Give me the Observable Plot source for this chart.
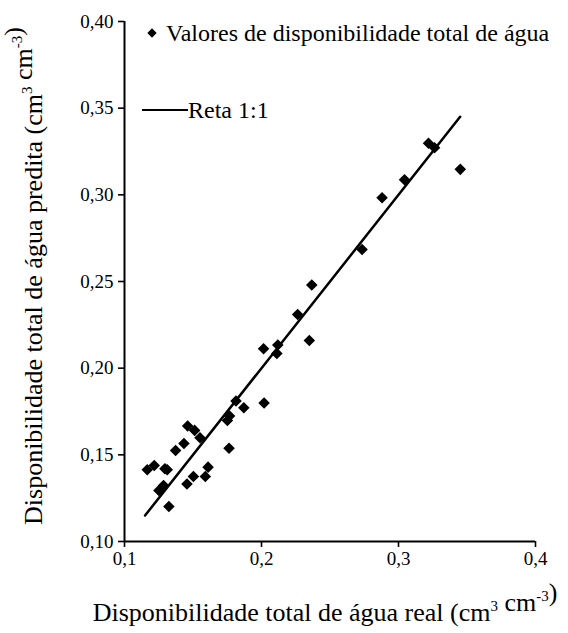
<!DOCTYPE html>
<html>
<head>
<meta charset="utf-8">
<script src="https://cdn.jsdelivr.net/npm/d3@7"></script>
<script src="https://cdn.jsdelivr.net/npm/@observablehq/plot@0.6"></script>
<style>
  html, body { margin: 0; padding: 0; background: #fff; }
  #chart svg { display: block; }
  #chart svg, #chart svg text { font-family: "Liberation Serif", "DejaVu Serif", serif !important; }
  #chart svg g[aria-label$="tick label"] text { font-size: 19px !important; }
</style>
</head>
<body>
<div id="chart"></div>
<script>
// Observed (real) vs predicted total water availability, cm3 cm-3
const realValues = [0.1166, 0.1217, 0.1295, 0.1312, 0.1251, 0.1285, 0.1324, 0.1373, 0.1434, 0.1461,
  0.1512, 0.1551, 0.1456, 0.1503, 0.1590, 0.1610, 0.1763, 0.1751, 0.1767, 0.1814,
  0.1871, 0.2019, 0.2015, 0.2119, 0.2112, 0.2349, 0.2264, 0.2367, 0.2734, 0.2880,
  0.3044, 0.3219, 0.3263, 0.3451];
const predictedValues = [0.1414, 0.1439, 0.1420, 0.1414, 0.1294, 0.1323, 0.1202, 0.1525, 0.1565, 0.1666,
  0.1641, 0.1598, 0.1332, 0.1375, 0.1375, 0.1429, 0.1538, 0.1698, 0.1724, 0.1810,
  0.1772, 0.1799, 0.2112, 0.2134, 0.2085, 0.2160, 0.2310, 0.2480, 0.2685, 0.2983,
  0.3087, 0.3298, 0.3272, 0.3147];
const lineEnds = [0.115, 0.345];
const xTicks = [0.1, 0.2, 0.3, 0.4];
const yTicks = [0.10, 0.15, 0.20, 0.25, 0.30, 0.35, 0.40];
const legendPoints = "Valores de disponibilidade total de água";
const legendLine = "Reta 1:1";

const points = realValues.map((x, i) => ({x, y: predictedValues[i]}));
const oneToOne = lineEnds.map(v => ({x: v, y: v}));
const comma = (f) => (d) => d3.format(f)(d).replace(".", ",");

const plot = Plot.plot({
  width: 568,
  height: 633,
  marginLeft: 124,
  marginRight: 33,
  marginTop: 21,
  marginBottom: 92,
  style: {fontFamily: "Liberation Serif, serif", fontSize: "19px", color: "#000", background: "#fff"},
  x: {domain: [0.1, 0.4]},
  y: {domain: [0.1, 0.4]},
  marks: [
    Plot.axisX({ticks: xTicks, tickFormat: comma(".1f"), tickSize: 6, tickPadding: 4, strokeWidth: 1.6, label: null}),
    Plot.axisY({ticks: yTicks, tickFormat: comma(".2f"), tickSize: 6, tickPadding: 5, strokeWidth: 1.6, label: null}),
    Plot.ruleX([0.1], {stroke: "#000", strokeWidth: 2}),
    Plot.ruleY([0.1], {stroke: "#000", strokeWidth: 2}),
    Plot.line(oneToOne, {x: "x", y: "y", stroke: "#000", strokeWidth: 2.5}),
    Plot.dot(points, {x: "x", y: "y", symbol: "diamond2", r: 5.2, fill: "#000", stroke: "none"})
  ]
});

document.getElementById("chart").appendChild(plot);

const svg = d3.select(plot);

function supLabel(g, parts, supSize, shift) {
  parts.forEach(([t, sup]) => {
    if (sup) {
      g.append("tspan").attr("dy", -shift).attr("font-size", supSize).text(t);
      g.append("tspan").attr("dy", shift).text("");
    } else {
      g.append("tspan").text(t);
    }
  });
}

// x-axis label
const xl = svg.append("text")
  .attr("x", 325).attr("y", 621)
  .attr("text-anchor", "middle")
  .attr("font-size", 26).attr("fill", "#000");
supLabel(xl, [["Disponibilidade total de água real (cm"], ["3", true], [" cm"], ["-3", true], [")"]], 15, 10);

// y-axis label
const yl = svg.append("text")
  .attr("transform", "translate(42,276) rotate(-90)")
  .attr("text-anchor", "middle")
  .attr("font-size", 26).attr("fill", "#000");
supLabel(yl, [["Disponibilidade total de água predita (cm"], ["3", true], [" cm"], ["-3", true], [")"]], 15, 10);

// legend
const lg = svg.append("g").attr("font-size", 24).attr("fill", "#000").attr("text-anchor", "start");
lg.append("path").attr("d", d3.symbol(d3.symbolDiamond2, 55)()).attr("transform", "translate(152,33)").attr("fill", "#000");
lg.append("text").attr("x", 166).attr("y", 41).attr("text-anchor", "start").text(legendPoints);
lg.append("line").attr("x1", 142).attr("x2", 188).attr("y1", 110).attr("y2", 110).attr("stroke", "#000").attr("stroke-width", 2);
lg.append("text").attr("x", 188).attr("y", 118).attr("text-anchor", "start").text(legendLine);
</script>
</body>
</html>
